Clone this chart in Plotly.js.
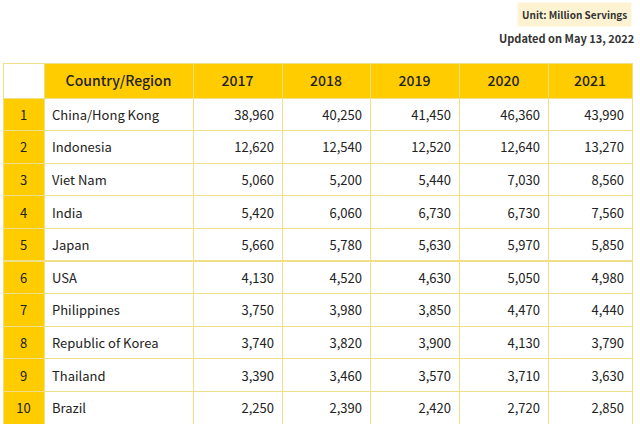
<!DOCTYPE html>
<html>
<head>
<meta charset="utf-8">
<script src="https://cdn.plot.ly/plotly-3.0.1.min.js"></script>
<style>
html,body{margin:0;padding:0;background:#fff;}
#chart{width:640px;height:424px;}
#chart .cell-text{translate:0 4px;}
</style>
</head>
<body>
<div id="chart"></div>
<script>
var ranks = [1, 2, 3, 4, 5, 6, 7, 8, 9, 10];
var countries = ["China/Hong Kong", "Indonesia", "Viet Nam", "India", "Japan", "USA", "Philippines", "Republic of Korea", "Thailand", "Brazil"];
var headerLabels = ["", "Country/Region", "2017", "2018", "2019", "2020", "2021"];
var v2017 = [38960, 12620, 5060, 5420, 5660, 4130, 3750, 3740, 3390, 2250];
var v2018 = [40250, 12540, 5200, 6060, 5780, 4520, 3980, 3820, 3460, 2390];
var v2019 = [41450, 12520, 5440, 6730, 5630, 4630, 3850, 3900, 3570, 2420];
var v2020 = [46360, 12640, 7030, 6730, 5970, 5050, 4470, 4130, 3710, 2720];
var v2021 = [43990, 13270, 8560, 7560, 5850, 4980, 4440, 3790, 3630, 2850];

function fmt(arr){ return arr.map(function(v){ return v.toLocaleString('en-US'); }); }

var yellow = '#FFCC00';
var border = '#EEDF88';
var font = '"Noto Sans CJK JP", "Noto Sans", sans-serif';

var trace = {
  type: 'table',
  domain: {x: [3/640, 632/640], y: [0, 1 - 63/424]},
  columnwidth: [41, 149, 89, 88, 89, 89, 84],
  header: {
    values: headerLabels,
    align: 'center',
    height: 35,
    fill: {color: ['#FFFFFF', yellow, yellow, yellow, yellow, yellow, yellow]},
    line: {color: border, width: 1},
    font: {family: font, size: 14, weight: 500, color: '#222'}
  },
  cells: {
    values: [ranks, countries, fmt(v2017), fmt(v2018), fmt(v2019), fmt(v2020), fmt(v2021)],
    align: ['center', 'left', 'right', 'right', 'right', 'right', 'right'],
    height: 32.6,
    fill: {color: [yellow, '#FFFFFF', '#FFFFFF', '#FFFFFF', '#FFFFFF', '#FFFFFF', '#FFFFFF']},
    line: {color: border, width: 1},
    font: {family: font, size: 13, color: '#222'}
  }
};

var layout = {
  width: 640, height: 424,
  margin: {l: 0, r: 0, t: 0, b: 0},
  paper_bgcolor: '#FFFFFF',
  showlegend: false,
  annotations: [
    {text: '<b>Unit: Million Servings</b>', xref: 'paper', yref: 'paper', x: 632/640, y: 1 - 14.5/424,
     xanchor: 'right', yanchor: 'middle', showarrow: false, bgcolor: '#FDF3D2', borderpad: 4,
     font: {family: font, size: 10, color: '#333'}},
    {text: '<b>Updated on May 13, 2022</b>', xref: 'paper', yref: 'paper', x: 636/640, y: 1 - 38/424,
     xanchor: 'right', yanchor: 'middle', showarrow: false,
     font: {family: font, size: 11, color: '#333'}}
  ]
};

Plotly.newPlot('chart', [trace], layout, {displayModeBar: false, staticPlot: true});
</script>
</body>
</html>
